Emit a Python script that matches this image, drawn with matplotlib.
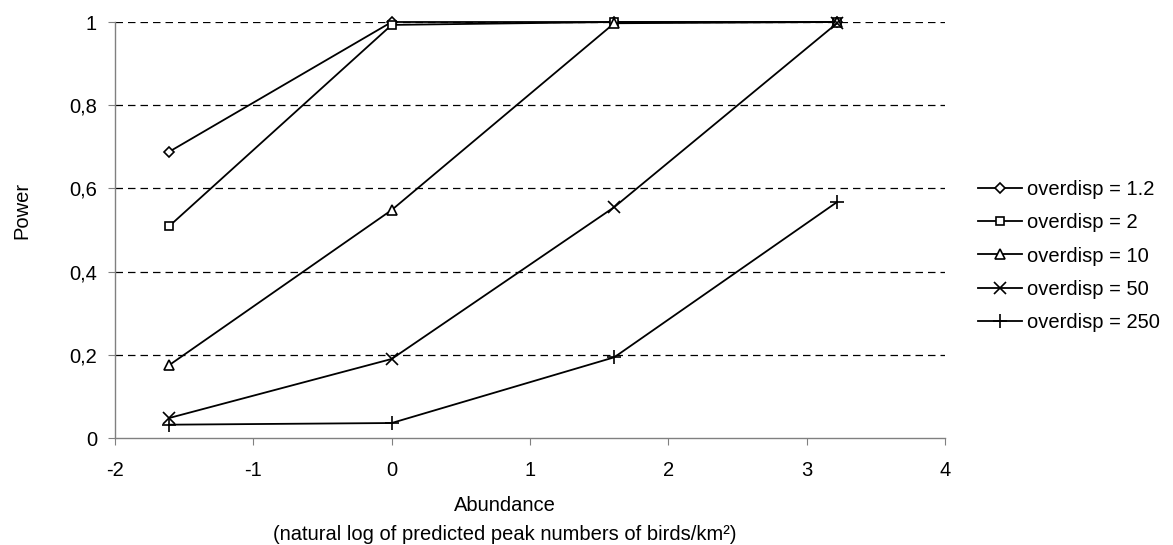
import matplotlib
matplotlib.use("Agg")
import matplotlib.pyplot as plt

plt.rcParams['font.family'] = ['Liberation Sans', 'DejaVu Sans']

abundance = [-1.609, 0.0, 1.609, 3.219]
labels = ["overdisp = 1.2", "overdisp = 2", "overdisp = 10", "overdisp = 50", "overdisp = 250"]
power_1_2 = [0.688, 1.0, 1.0, 1.0]
power_2 = [0.509, 0.993, 1.0, 1.0]
power_10 = [0.175, 0.548, 0.997, 1.0]
power_50 = [0.048, 0.190, 0.555, 0.997]
power_250 = [0.032, 0.036, 0.194, 0.567]
series = [power_1_2, power_2, power_10, power_50, power_250]
xticks = [-2, -1, 0, 1, 2, 3, 4]
xticklabels = ["-2", "-1", "0", "1", "2", "3", "4"]
yticks = [0, 0.2, 0.4, 0.6, 0.8, 1.0]
yticklabels = ["0", "0,2", "0,4", "0,6", "0,8", "1"]
markers = ["D", "s", "^", "x", "+"]
msizes = [5.5, 6, 7.5, 9, 10]
FS = 14.5

W, H = 1173, 545
L, R, T, B = 115, 945, 22, 438
fig = plt.figure(figsize=(W / 100, H / 100), dpi=100)
ax = fig.add_axes([L / W, 1 - B / H, (R - L) / W, (B - T) / H])

for vals, lab, m, ms in zip(series, labels, markers, msizes):
    ax.plot(abundance, vals, color="black", lw=1.3, marker=m, ms=ms,
            mfc="white" if m not in ("x", "+") else "black", mec="black",
            mew=1.2, label=lab, clip_on=False)

ax.set_xlim(-2, 4)
ax.set_ylim(0, 1)
ax.set_xticks(xticks)
ax.set_xticklabels(xticklabels)
ax.set_yticks(yticks)
ax.set_yticklabels(yticklabels)
for y in yticks[1:]:
    ax.axhline(y, color="black", lw=0.9, ls=(0, (6, 4)), zorder=0)
ax.spines["top"].set_visible(False)
ax.spines["right"].set_visible(False)
for s in ("left", "bottom"):
    ax.spines[s].set_color("#808080")
    ax.spines[s].set_linewidth(1.0)
ax.tick_params(axis="x", direction="out", length=5, pad=11.5, labelsize=FS, color="#808080")
ax.tick_params(axis="y", direction="out", length=5, pad=7.9, labelsize=FS, color="#808080")
ax.set_ylabel("Power", fontsize=FS)
ax.yaxis.set_label_coords(-0.101, 0.548)
ax.set_xlabel("Abundance\n(natural log of predicted peak numbers of birds/km²)",
              fontsize=FS, linespacing=1.65)
ax.xaxis.set_label_coords(0.47, -0.139)

leg = ax.legend(loc="center left", bbox_to_anchor=(978 / W, 1 - 256 / H), bbox_transform=fig.transFigure,
                frameon=False, fontsize=FS, handlelength=2.2, handletextpad=0.25,
                labelspacing=0.7, borderaxespad=0, borderpad=0)

fig.savefig("out.png", dpi=100)
